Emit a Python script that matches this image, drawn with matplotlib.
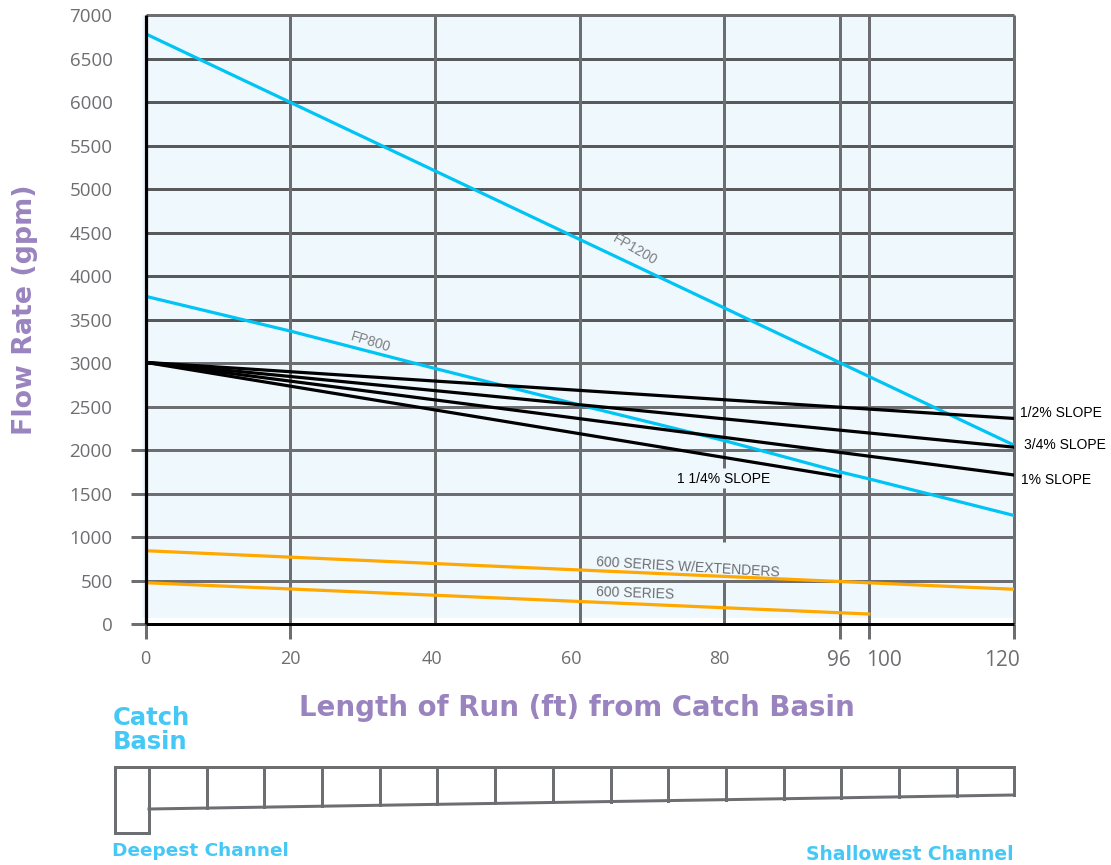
import matplotlib
matplotlib.use("Agg")
import matplotlib.pyplot as plt
from matplotlib.patches import Rectangle
from matplotlib.transforms import ScaledTranslation

W, H, DPI = 1111, 865, 100
NARROW = 'Liberation Sans'

# ---- data ----
run_x = [0, 120]
fp1200 = [6790, 2060]
fp800_x = [0, 20, 40, 60, 80, 96, 100, 120]
fp800 = [3770, 3370, 2940, 2520, 2110, 1750, 1670, 1250]
slope_half = [3010, 2365]
slope_three_quarter = [3010, 2035]
slope_one = [3010, 1715]
slope_one_quarter_x = [0, 96]
slope_one_quarter = [3010, 1697]
ext600 = [843, 400]
s600_x = [0, 100]
s600 = [475, 115]
y_ticks = list(range(0, 7001, 500))
x_ticks = [0, 20, 40, 60, 80, 96, 100, 120]
x_label_shift_px = [0, 0, -3, -8, -5, -1, 15, -12]
x_label_size = [13, 13, 13, 13, 13, 15, 15, 15]
x_tick_len_px = [15, 15, 0, 0, 0, 15, 15, 15]
y_stub_max = 2000
# vertical gridline at x=80 is broken around two labels
grid80_segments = [(7000, 1800), (1565, 942), (505, 0)]

# schematic channel (figure pixels)
channel_top = 767
divider_x = [149, 207, 264, 322, 380, 437, 495, 553, 611, 668, 726, 784, 841, 899, 957, 1014]
channel_floor_x = [149, 1014]
channel_floor_y = [809, 795]
basin_x = [115, 115, 149, 149]
basin_y = [767, 833, 833, 767]

BLUE = '#00c4f4'; ORANGE = '#ffa800'; GRID_V = '#6d6e71'; GRID_H = '#58595b'
TXT = '#6d6e71'; PURPLE = '#9a84bf'; CYAN = '#45c8f5'; BG = '#eff8fd'
px = 72 / DPI

fig = plt.figure(figsize=(W / DPI, H / DPI), dpi=DPI)
L, R, T, B = 145.5, 1013.5, 15.5, 624
ax = fig.add_axes([L / W, 1 - B / H, (R - L) / W, (B - T) / H])
ax.set_xlim(0, 120); ax.set_ylim(0, 7000)
ax.add_patch(Rectangle((-0.55, 65), 120.55, 6935, fc=BG, ec='none', zorder=0, clip_on=False))
ax.set_facecolor('white')
for s in ax.spines.values():
    s.set_visible(False)

for y in y_ticks[1:]:
    ax.plot([0, 120], [y, y], color=GRID_H if 3500 <= y < 7000 else GRID_V, lw=3 * px, zorder=1,
            solid_capstyle='butt', clip_on=False)
for x in x_ticks[1:]:
    if x == 80:
        for y0, y1 in grid80_segments:
            ax.plot([x, x], [y0, y1], color=GRID_V, lw=3 * px, zorder=1.5, solid_capstyle='butt')
    else:
        ax.plot([x, x], [0, 7000], color=GRID_V, lw=3 * px, zorder=1.5, solid_capstyle='butt', clip_on=False)
ax.plot([0, 0], [0, 7000], color='black', lw=3.2 * px, zorder=5, clip_on=False, solid_capstyle='butt')
ax.plot([0, 120], [0, 0], color='black', lw=3 * px, zorder=5, clip_on=False, solid_capstyle='butt')

ax.plot(run_x, fp1200, color=BLUE, lw=3.2 * px, zorder=3)
ax.plot(fp800_x, fp800, color=BLUE, lw=3.2 * px, zorder=3)
for yv in (slope_half, slope_three_quarter, slope_one):
    ax.plot(run_x, yv, color='black', lw=3.2 * px, zorder=4)
ax.plot(slope_one_quarter_x, slope_one_quarter, color='black', lw=3.2 * px, zorder=4)
ax.plot(run_x, ext600, color=ORANGE, lw=3.2 * px, zorder=3)
ax.plot(s600_x, s600, color=ORANGE, lw=3.2 * px, zorder=3)

# ticks
ax.set_yticks(y_ticks)
ax.set_xticks(x_ticks)
ax.tick_params(axis='y', length=15 * px, width=3 * px, color=GRID_V, pad=18 * px, labelsize=13.5, labelcolor=TXT)
ax.tick_params(axis='x', length=15 * px, width=3 * px, color=GRID_V, pad=11 * px, labelsize=13.5, labelcolor=TXT)
for lab_ in ax.get_yticklabels() + ax.get_xticklabels():
    lab_.set_family('Open Sans')
for tick, dx, sz, ln in zip(ax.xaxis.get_major_ticks(), x_label_shift_px, x_label_size, x_tick_len_px):
    tick.label1.set_transform(tick.label1.get_transform() + ScaledTranslation(dx / DPI, 0, fig.dpi_scale_trans))
    tick.label1.set_fontsize(sz)
    tick.tick1line.set_markersize(ln * px)
for tick, y in zip(ax.yaxis.get_major_ticks(), y_ticks):
    if y > y_stub_max:
        tick.tick1line.set_markersize(0)
ax.xaxis.get_major_ticks()[0].tick1line.set_color('black')
ax.yaxis.get_major_ticks()[0].tick1line.set_color('black')

# inline labels
def lab(x, y, s, color='black', rot=0, size=10, fam=NARROW):
    ax.text(x, y, s, color=color, rotation=rot, rotation_mode='anchor', fontsize=size, family=fam,
            ha='left', va='center', zorder=6, clip_on=False)

lab(64.7, 4445, 'FP1200', '#7d7e81', -30, 10)
lab(28.4, 3307, 'FP800', '#7d7e81', -17, 10)
lab(120.9, 2427, '1/2% SLOPE')
lab(121.4, 2059, '3/4% SLOPE')
lab(121.0, 1656, '1% SLOPE')
lab(73.5, 1668, '1 1/4% SLOPE')
lab(62.3, 713, '600 SERIES W/EXTENDERS', TXT, -3.3)
lab(62.3, 368, '600 SERIES', TXT, -2)

# overlay in figure pixels
ov = fig.add_axes([0, 0, 1, 1])
ov.set_xlim(0, W); ov.set_ylim(H, 0); ov.axis('off'); ov.patch.set_alpha(0)
col = '#6d6e71'; lw = 3 * px
ov.plot(basin_x, basin_y, color=col, lw=lw, solid_joinstyle='miter')
ov.plot([basin_x[0], divider_x[-1]], [channel_top, channel_top], color=col, lw=lw)
ov.plot(channel_floor_x, channel_floor_y, color=col, lw=lw)
for x in divider_x:
    f = (x - channel_floor_x[0]) / (channel_floor_x[1] - channel_floor_x[0])
    ov.plot([x, x], [channel_top, channel_floor_y[0] + f * (channel_floor_y[1] - channel_floor_y[0])], color=col, lw=lw)

DISP = 'DejaVu Sans'
ov.text(299, 708, 'Length of Run (ft) from Catch Basin', color=PURPLE, fontsize=19.9, family=DISP, ha='left', va='center', fontweight='bold')
ov.text(25, 310, 'Flow Rate (gpm)', color=PURPLE, fontsize=19.4, family=DISP, rotation=90, ha='center', va='center', fontweight='bold')
ov.text(113, 718, 'Catch', color=CYAN, fontsize=17.5, family=DISP, ha='left', va='center', fontweight='bold')
ov.text(113, 742, 'Basin', color=CYAN, fontsize=17.5, family=DISP, ha='left', va='center', fontweight='bold')
ov.text(112, 851, 'Deepest Channel', color=CYAN, fontsize=13.3, family=DISP, ha='left', va='center', fontweight='bold')
ov.text(1014, 855, 'Shallowest Channel', color=CYAN, fontsize=13.5, family=DISP, ha='right', va='center', fontweight='bold')

fig.savefig('out.png', dpi=DPI, facecolor='white')
